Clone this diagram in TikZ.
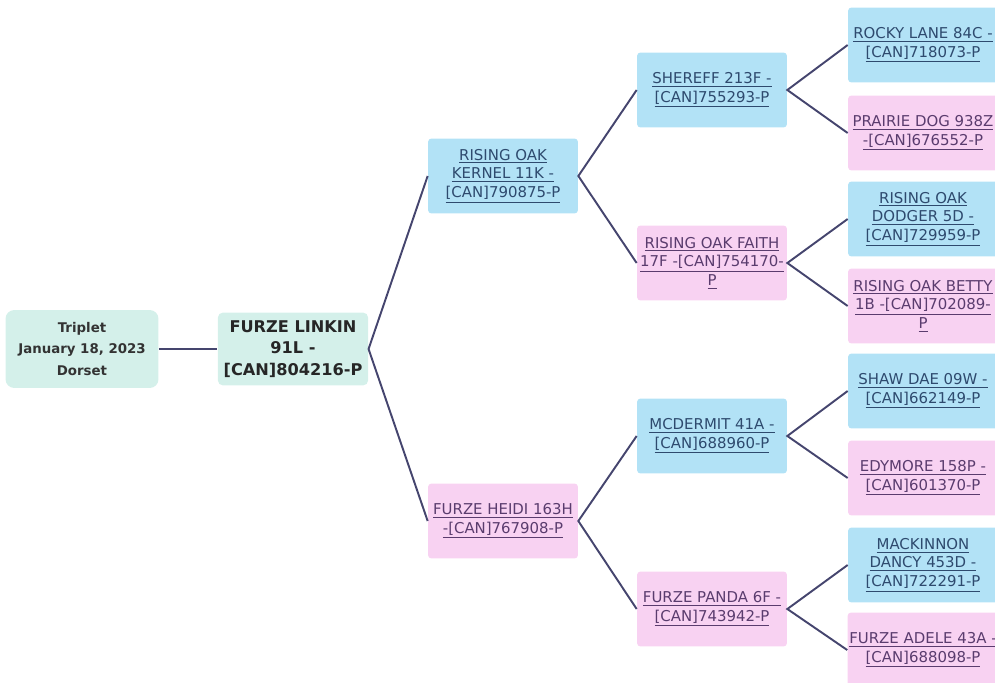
\documentclass[tikz,border=0pt]{standalone}
\usepackage{fontspec}
\setmainfont{DejaVu Sans}
\usepackage{xcolor}
\usetikzlibrary{positioning, arrows.meta}

\definecolor{tealbg}{HTML}{D4F0EA}
\definecolor{sirebg}{HTML}{B2E2F6}
\definecolor{dambg}{HTML}{F8D2F2}
\definecolor{siretxt}{HTML}{2E4A6E}
\definecolor{damtxt}{HTML}{5A3C6E}
\definecolor{linkcol}{HTML}{45456E}

\tikzset{
  rootbox/.style={fill=tealbg, rounded corners=5pt, align=center, text=black!80,
    font=\fontsize{7.6}{12.5}\selectfont\bfseries, minimum width=3.06cm, minimum height=1.56cm},
  mainbox/.style={fill=tealbg, rounded corners=3pt, align=center, text=black!85,
    font=\fontsize{9.2}{12.3}\selectfont\bfseries, minimum width=2.98cm, minimum height=1.46cm},
  sirebox/.style={fill=sirebg, rounded corners=2pt, align=center, text=siretxt,
    font=\fontsize{8.5}{10.6}\selectfont, minimum width=3cm, minimum height=1.5cm, inner sep=1pt},
  dambox/.style={sirebox, fill=dambg, text=damtxt},
  branch/.style={draw=linkcol, line width=1.1pt}
}
\newcommand{\ul}[1]{\underline{#1}}

\begin{document}
\begin{tikzpicture}[x=0.02cm, y=-0.02cm]
  \useasboundingbox (0,0) rectangle (995,683);

  % litter and calf
  \node[rootbox] (litter) at (82,349) {Triplet\\January 18, 2023\\Dorset};
  \node[mainbox] (calf) at (293,349) {FURZE LINKIN\\91L -\\{[}CAN{]}804216-P};

  % parents
  \node[sirebox] (sire) at (503,176) {\ul{RISING OAK}\\\ul{KERNEL 11K -}\\\ul{{[}CAN{]}790875-P}};
  \node[dambox] (dam) at (503,521) {\ul{FURZE HEIDI 163H}\\\ul{-{[}CAN{]}767908-P}};

  % grandparents
  \node[sirebox] (ss) at (712,90) {\ul{SHEREFF 213F -}\\\ul{{[}CAN{]}755293-P}};
  \node[dambox] (sd) at (712,263) {\ul{RISING OAK FAITH}\\\ul{17F -{[}CAN{]}754170-}\\\ul{P}};
  \node[sirebox] (ds) at (712,436) {\ul{MCDERMIT 41A -}\\\ul{{[}CAN{]}688960-P}};
  \node[dambox] (dd) at (712,609) {\ul{FURZE PANDA 6F -}\\\ul{{[}CAN{]}743942-P}};

  % great grandparents
  \node[sirebox] (sss) at (923,45) {\ul{ROCKY LANE 84C -}\\\ul{{[}CAN{]}718073-P}};
  \node[dambox] (ssd) at (923,133) {\ul{PRAIRIE DOG 938Z}\\\ul{-{[}CAN{]}676552-P}};
  \node[sirebox] (sds) at (923,219) {\ul{RISING OAK}\\\ul{DODGER 5D -}\\\ul{{[}CAN{]}729959-P}};
  \node[dambox] (sdd) at (923,306) {\ul{RISING OAK BETTY}\\\ul{1B -{[}CAN{]}702089-}\\\ul{P}};
  \node[sirebox] (dss) at (923,391) {\ul{SHAW DAE 09W -}\\\ul{{[}CAN{]}662149-P}};
  \node[dambox] (dsd) at (923,478) {\ul{EDYMORE 158P -}\\\ul{{[}CAN{]}601370-P}};
  \node[sirebox] (dds) at (923,565) {\ul{MACKINNON}\\\ul{DANCY 453D -}\\\ul{{[}CAN{]}722291-P}};
  \node[dambox] (ddd) at (923,650) {\ul{FURZE ADELE 43A -}\\\ul{{[}CAN{]}688098-P}};

  % branches
  \draw[branch] (litter) -- (calf);
  \draw[branch] (sire.west) -- (calf.east) -- (dam.west);
  \draw[branch] (ss.west) -- (sire.east) -- (sd.west);
  \draw[branch] (ds.west) -- (dam.east) -- (dd.west);
  \draw[branch] (sss.west) -- (ss.east) -- (ssd.west);
  \draw[branch] (sds.west) -- (sd.east) -- (sdd.west);
  \draw[branch] (dss.west) -- (ds.east) -- (dsd.west);
  \draw[branch] (dds.west) -- (dd.east) -- (ddd.west);

\end{tikzpicture}
\end{document}
